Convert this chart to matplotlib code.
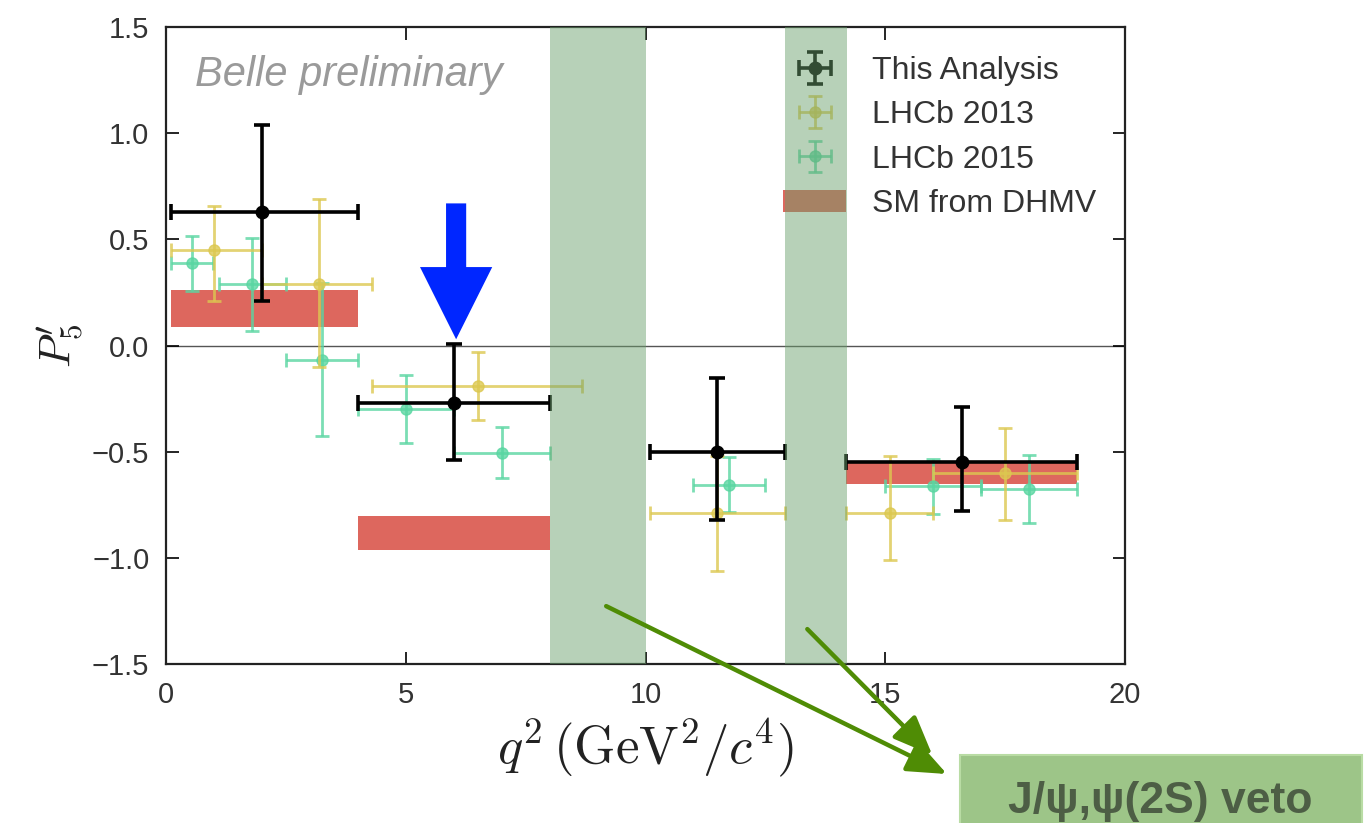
import matplotlib
matplotlib.use('Agg')
import matplotlib.pyplot as plt
from matplotlib.patches import Rectangle, FancyArrowPatch
import numpy as np

plt.rcParams['font.family'] = ['Liberation Sans', 'DejaVu Sans']
plt.rcParams['mathtext.fontset'] = 'cm'

# This Analysis (Belle)
belle_lo = [0.10, 4.00, 10.09, 14.18]
belle_hi = [4.00, 8.00, 12.90, 19.00]
belle_x = [2.0, 6.0, 11.5, 16.6]
belle_y = [0.63, -0.27, -0.50, -0.55]
belle_up = [0.41, 0.28, 0.35, 0.26]
belle_dn = [0.42, 0.27, 0.32, 0.23]

# LHCb 2013
l13_lo = [0.10, 2.00, 4.30, 10.09, 14.18, 16.00]
l13_hi = [2.00, 4.30, 8.68, 12.90, 16.00, 19.00]
l13_x = [1.0, 3.2, 6.5, 11.5, 15.1, 17.5]
l13_y = [0.45, 0.29, -0.19, -0.79, -0.79, -0.60]
l13_up = [0.21, 0.40, 0.16, 0.27, 0.27, 0.21]
l13_dn = [0.24, 0.39, 0.16, 0.27, 0.22, 0.22]

# LHCb 2015
l15_lo = [0.10, 1.10, 2.50, 4.00, 6.00, 11.00, 15.00, 17.00]
l15_hi = [0.98, 2.50, 4.00, 6.00, 8.00, 12.50, 17.00, 19.00]
l15_x = [0.55, 1.8, 3.25, 5.0, 7.0, 11.75, 16.0, 18.0]
l15_y = [0.387, 0.289, -0.066, -0.300, -0.505, -0.655, -0.662, -0.676]
l15_err = [0.13, 0.22, 0.36, 0.16, 0.12, 0.13, 0.13, 0.16]

# SM from DHMV
sm_lo = [0.10, 4.00, 14.18]
sm_hi = [4.00, 8.00, 19.00]
sm_min = [0.09, -0.96, -0.65]
sm_max = [0.26, -0.80, -0.55]

# charmonium veto regions
veto_lo = [8.0, 12.9]
veto_hi = [10.0, 14.2]


def xerrs(x, lo, hi):
    x = np.array(x)
    return [x - np.array(lo), np.array(hi) - x]


fig = plt.figure(figsize=(13.72, 8.23), dpi=100)
ax = fig.add_axes([0.121, 0.193, 0.699, 0.774])

ax.axhline(0, color='#555555', lw=1.0, zorder=1)

sm_bars = ax.bar(sm_lo, np.array(sm_max) - np.array(sm_min),
                 width=np.array(sm_hi) - np.array(sm_lo), bottom=sm_min,
                 align='edge', color='#dc5f55', alpha=0.95, lw=0, zorder=2,
                 label='SM from DHMV')

e15 = ax.errorbar(l15_x, l15_y, yerr=l15_err, xerr=xerrs(l15_x, l15_lo, l15_hi),
                  fmt='o', ms=8, color='#5ad6a2', alpha=0.8, lw=2.0,
                  capsize=5, capthick=2.0, zorder=3, label='LHCb 2015')
e13 = ax.errorbar(l13_x, l13_y, yerr=[l13_dn, l13_up],
                  xerr=xerrs(l13_x, l13_lo, l13_hi),
                  fmt='o', ms=8, color='#dcc850', alpha=0.8, lw=2.0,
                  capsize=5, capthick=2.0, zorder=4, label='LHCb 2013')
eb = ax.errorbar(belle_x, belle_y, yerr=[belle_dn, belle_up],
                 xerr=xerrs(belle_x, belle_lo, belle_hi),
                 fmt='o', ms=9, color='black', lw=2.6,
                 capsize=6, capthick=2.6, zorder=5, label='This Analysis')

ax.set_xlim(0, 20)
ax.set_ylim(-1.5, 1.5)
ax.set_xticks([0, 5, 10, 15, 20])
ax.set_yticks([-1.5, -1.0, -0.5, 0.0, 0.5, 1.0, 1.5])
ax.set_yticklabels(['\u22121.5', '\u22121.0', '\u22120.5', '0.0', '0.5', '1.0', '1.5'])
ax.tick_params(direction='in', length=9, width=1.2, top=True, right=True,
               labelsize=21, labelcolor='#333333', pad=12)
for s in ax.spines.values():
    s.set_linewidth(1.6)
    s.set_color('#222222')

ax.set_xlabel(r'$q^2\,(\mathrm{GeV}^2/c^4)$', fontsize=38, labelpad=6, color='#222222')
ax.set_ylabel(r"$P_5'$", fontsize=32, labelpad=4, color='#222222')

ax.text(0.03, 0.925, 'Belle preliminary', transform=ax.transAxes,
        fontsize=30, style='italic', color='#9a9a9a', va='center')

leg = ax.legend(handles=[eb, e13, e15, sm_bars[0]],
                labels=['This Analysis', 'LHCb 2013', 'LHCb 2015', 'SM from DHMV'],
                loc='upper right', frameon=False,
                fontsize=23, handlelength=2.0, labelspacing=0.45,
                handletextpad=0.8, borderaxespad=0.5)
for t in leg.get_texts():
    t.set_color('#333333')

# veto bands overlaid on top of everything
for lo, hi in zip(veto_lo, veto_hi):
    ax.axvspan(lo, hi, color='#6aa06c', alpha=0.48, lw=0, zorder=10)

# blue arrow pointing at the 4-8 bin
ax.annotate('', xy=(6.05, 0.03), xytext=(6.05, 0.67),
            arrowprops=dict(arrowstyle='simple,head_width=5.2,head_length=5.2,tail_width=1.45',
                            color='#0026ff', lw=0, shrinkA=0, shrinkB=0),
            zorder=11)

# veto label box and green arrows (figure coordinates)
fig.patches.append(Rectangle((0.700, -0.01), 0.293, 0.093, transform=fig.transFigure,
                             facecolor='#9dc588', edgecolor='#b9dca4', lw=1.5))
fig.text(0.846, 0.026, 'J/\u03c8,\u03c8(2S) veto', fontsize=32, fontweight='bold',
         color='#4d5e45', ha='center', va='center',
         family=['Liberation Sans', 'DejaVu Sans'])
for start, end in [((0.440, 0.265), (0.692, 0.058)),
                   ((0.587, 0.238), (0.681, 0.080))]:
    fig.add_artist(FancyArrowPatch(
        start, end, transform=fig.transFigure,
        arrowstyle='-|>,head_width=0.45,head_length=1.1',
        mutation_scale=22, color='#4f8c05', lw=3.2))

fig.savefig('out.png', dpi=100)
